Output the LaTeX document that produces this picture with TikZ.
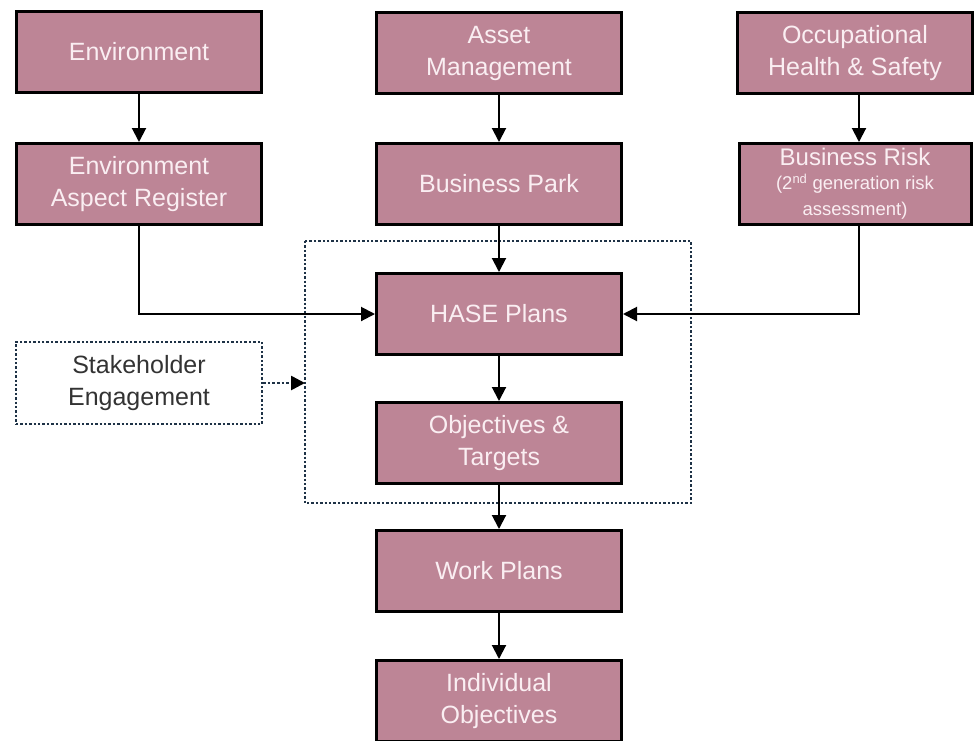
\documentclass[tikz,border=0pt]{standalone}
\usepackage{fontspec}
\setmainfont{Liberation Sans}
\usetikzlibrary{arrows.meta}
\definecolor{mauve}{RGB}{189,133,150}
\definecolor{navydot}{RGB}{30,50,70}
\definecolor{petal}{RGB}{250,238,242}
\begin{document}
\begin{tikzpicture}[x=1pt,y=-1pt,
  proc/.style={draw=black, line width=3pt, fill=mauve, text=petal,
    minimum width=245pt, minimum height=81pt, align=center,
    font=\fontsize{25}{32}\selectfont, inner sep=2pt},
  sidebox/.style={draw=navydot, line width=2.4pt, dotted, minimum width=246pt,
    minimum height=82pt, align=center, text=black!80,
    font=\fontsize{25}{32}\selectfont},
  flow/.style={line width=2pt, -{Triangle[length=14pt,width=14pt]}},
  dotflow/.style={line width=2.6pt, dotted, draw=navydot,
    -{Triangle[length=14pt,width=14pt,color=black]}}]
\useasboundingbox (0,0) rectangle (975,740);
% group frame around planning steps
\draw[navydot, line width=2.4pt, dotted] (305,241) rectangle (691,503);
% top row sources
\node[proc] (env) at (139,52) {Environment};
\node[proc] (asset) at (499,53) {Asset\\Management};
\node[proc, minimum width=235pt] (ohs) at (855,53) {Occupational\\Health \& Safety};
% second row
\node[proc] (ear) at (139,184) {Environment\\Aspect Register};
\node[proc] (park) at (499,184) {Business Park};
\node[proc, minimum width=232pt, font=\fontsize{24}{26}\selectfont] (risk) at (855,184)
  {Business Risk\\[-2pt]{\fontsize{18.5}{23}\selectfont (2\textsuperscript{nd} generation risk}\\
   {\fontsize{18.5}{23}\selectfont assessment)}};
% central column
\node[proc] (hase) at (499,314) {HASE Plans};
\node[proc] (obj) at (499,443) {Objectives \&\\Targets};
\node[proc] (work) at (499,571) {Work Plans};
\node[proc] (indiv) at (499,701) {Individual\\Objectives};
% stakeholder input
\node[sidebox] (stake) at (139,383) {Stakeholder\\Engagement};
\coordinate (frameleft) at (305,383);
% connectors
\draw[flow] (env) -- (ear);
\draw[flow] (asset) -- (park);
\draw[flow] (ohs.south -| risk.north) ++(4,0) coordinate (ohsout) -- (ohsout |- risk.north);
\draw[flow] (park) -- (hase);
\draw[flow] (ear.south) |- (hase.west);
\draw[flow] (risk.south) ++(4,0) |- (hase.east);
\draw[flow] (hase) -- (obj);
\draw[flow] (obj) -- (work);
\draw[flow] (work) -- (indiv);
\draw[dotflow] (stake.east) -- (frameleft);
\end{tikzpicture}
\end{document}
